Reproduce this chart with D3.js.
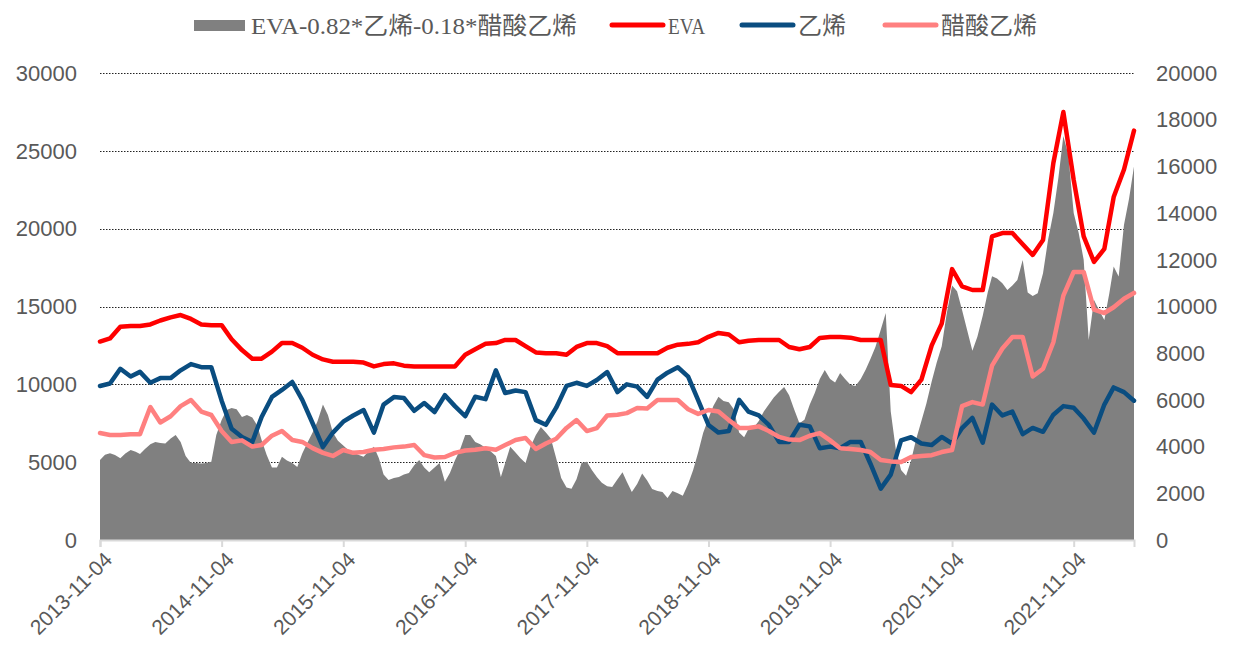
<!DOCTYPE html>
<html>
<head>
<meta charset="utf-8">
<script src="https://cdn.jsdelivr.net/npm/d3@7"></script>
<style>
  body { margin: 0; background: #fff; }
  svg { display: block; }
</style>
</head>
<body>
<div id="main"></div>
<script>
// monthly series (start 2013-11-04), left axis
const eva = [
  12750, 12950, 13700, 13750, 13750, 13850, 14100, 14300, 14450, 14200,
  13850, 13800, 13800, 12900, 12200, 11650, 11650, 12100, 12650, 12650,
  12350, 11900, 11600, 11450, 11450, 11450, 11400, 11150, 11300, 11350,
  11200, 11150, 11150, 11150, 11150, 11150, 11900, 12250, 12600, 12650,
  12850, 12850, 12450, 12050, 12000, 12000, 11900, 12400, 12650, 12650,
  12450, 12000, 12000, 12000, 12000, 12000, 12350, 12550, 12600, 12700,
  13050, 13300, 13200, 12700, 12800, 12850, 12850, 12850, 12400, 12250,
  12400, 12980, 13040, 13040, 13000, 12850, 12850, 12850, 9960, 9900,
  9500, 10300, 12500, 13900, 17400, 16300, 16060, 16060, 19500, 19720,
  19720, 19000, 18310, 19270, 24220, 27490, 23130, 19500, 17860, 18700,
  22030, 23800, 26300
];

const ethylene = [
  9890, 10050, 11000, 10500, 10800, 10100, 10400, 10400, 10900, 11300,
  11100, 11100, 8950, 7150, 6620, 6300, 7900, 9190, 9640, 10150,
  9000, 7500, 5970, 6900, 7600, 8000, 8350, 6900, 8700, 9180,
  9120, 8300, 8800, 8220, 9300, 8600, 7950, 9200, 9050, 10900,
  9440, 9600, 9500, 7700, 7400, 8500, 9900, 10100, 9900, 10280,
  10790, 9500, 10000, 9850, 9190, 10300, 10750, 11100, 10500, 8990,
  7390, 6900, 7000, 9000, 8250, 8000, 7400, 6300, 6300, 7400,
  7300, 5900, 6000, 5900, 6300, 6300, 4900, 3300, 4200, 6400,
  6600, 6200, 6100, 6620, 6200, 7190, 7840, 6250, 8700, 8000,
  8250, 6800, 7200, 6950, 8050, 8600, 8500, 7800, 6900, 8700,
  9800, 9500, 8950
];

const vinylAcetate = [
  6870, 6750, 6750, 6800, 6800, 8540, 7550, 7950, 8600, 8990,
  8250, 8030, 7000, 6300, 6400, 6000, 6100, 6700, 7000, 6420,
  6300, 5900, 5600, 5400, 5780, 5600, 5650, 5800, 5850, 5950,
  6000, 6100, 5450, 5300, 5330, 5600, 5750, 5800, 5900, 5800,
  6100, 6420, 6550, 5850, 6200, 6500, 7200, 7710, 7000, 7190,
  8000, 8050, 8150, 8480, 8450, 8990, 8990, 8990, 8400, 8100,
  8350, 8250, 7700, 7200, 7200, 7300, 7000, 6620, 6450, 6420,
  6700, 6870, 6400, 5900, 5850, 5780, 5650, 5140, 5050, 5010,
  5330, 5400, 5450, 5650, 5780, 8600, 8860, 8700, 11200, 12300,
  13040, 13040, 10500, 11000, 12700, 15700, 17220, 17220, 14800, 14580,
  14950, 15500, 15870
];

// half-monthly spread (4th and 19th of each month), right axis
const spread = [
  3430, 3650, 3720, 3640, 3500, 3700, 3850, 3780, 3680, 3900,
  4100, 4200, 4150, 4130, 4350, 4500, 4200, 3600, 3300, 3300,
  3280, 3300, 3350, 4500, 5140, 5570, 5650, 5600, 5270, 5350,
  5250, 4900, 4280, 3650, 3100, 3100, 3560, 3400, 3300, 3130,
  3700, 4150, 4600, 5100, 5800, 5350, 4600, 4250, 4050, 3850,
  3750, 3650, 3560, 3800, 3990, 3500, 2800, 2570, 2650, 2700,
  2800, 2870, 3200, 3430, 3100, 2900, 3100, 3300, 2500, 2870,
  3400, 3850, 4500, 4500, 4200, 4100, 3950, 3800, 3600, 2700,
  3300, 3990, 3750, 3500, 3300, 4000, 4500, 4840, 4600, 4350,
  3500, 2650, 2250, 2200, 2600, 3300, 3350, 3000, 2700, 2450,
  2300, 2270, 2600, 2900, 2500, 2060, 2400, 2850, 2550, 2180,
  2100, 2060, 1800, 2100, 2000, 1900, 2400, 3000, 3750, 4580,
  5200, 5750, 6130, 5950, 5900, 5600, 4600, 4400, 4750, 4800,
  5100, 5500, 5800, 6100, 6350, 6550, 6200, 5600, 5000, 5150,
  5800, 6300, 6900, 7280, 6900, 6750, 7150, 6900, 6650, 6600,
  6900, 7300, 7750, 8270, 9000, 9720, 5500, 3900, 3000, 2750,
  3400, 4300, 5100, 5850, 6800, 7600, 8300, 9700, 10900, 10650,
  9850, 9000, 8100, 8700, 9600, 10600, 11300, 11200, 11000, 10710,
  10900, 11140, 11990, 10600, 10450, 10570, 11420, 12850, 14000, 15500,
  17300, 16500, 14000, 13150, 12000, 8570, 10280, 9850, 9420, 10570,
  11710, 11290, 13500, 14600, 16000
];

const leftTicks = [0, 5000, 10000, 15000, 20000, 25000, 30000];
const rightTicks = [0, 2000, 4000, 6000, 8000, 10000, 12000, 14000, 16000, 18000, 20000];

const seriesNames = ['EVA-0.82*乙烯-0.18*醋酸乙烯', 'EVA', '乙烯', '醋酸乙烯'];
const seriesColors = ['#808080', '#ff0000', '#0a4d80', '#ff8080'];

const start = new Date(2013, 10, 4);
const monthDates = eva.map((d, i) => d3.timeMonth.offset(start, i));
const halfDates = spread.map((d, i) => {
  const m = d3.timeMonth.offset(start, Math.floor(i / 2));
  return i % 2 === 0 ? m : d3.timeDay.offset(m, 15);
});
const yearTicks = d3.range(0, 9).map(i => d3.timeYear.offset(start, i));

const width = 1233;
const height = 659;
const plot = {left: 100, right: 1134, top: 73, bottom: 540};
const textColor = '#595959';
const font = '"Liberation Sans", Arial, sans-serif';

const svg = d3.select('#main').append('svg')
    .attr('width', width)
    .attr('height', height);

const x = d3.scaleTime()
    .domain([start, monthDates[monthDates.length - 1]])
    .range([plot.left, plot.right]);

const yL = d3.scaleLinear().domain([0, 30000]).range([plot.bottom, plot.top]);
const yR = d3.scaleLinear().domain([0, 20000]).range([plot.bottom, plot.top]);

// gridlines
svg.append('g')
  .selectAll('line')
  .data(leftTicks.filter(d => d > 0))
  .join('line')
    .attr('x1', plot.left)
    .attr('x2', plot.right + 1)
    .attr('y1', d => Math.round(yL(d)) + 0.5)
    .attr('y2', d => Math.round(yL(d)) + 0.5)
    .attr('stroke', '#222')
    .attr('stroke-width', 1)
    .attr('stroke-dasharray', '1.5,1.5');

// spread area
svg.append('path')
    .datum(spread)
    .attr('fill', seriesColors[0])
    .attr('d', d3.area()
      .x((d, i) => x(halfDates[i]))
      .y0(yR(0))
      .y1(d => yR(d)));

// x axis
const xAxis = svg.append('g')
    .attr('transform', `translate(0,${plot.bottom})`)
    .call(d3.axisBottom(x)
      .tickValues(yearTicks)
      .tickSize(7)
      .tickFormat(d3.timeFormat('%Y-%m-%d')));
xAxis.select('.domain').attr('stroke', '#d9d9d9').attr('stroke-width', 2);
xAxis.selectAll('.tick line').attr('stroke', '#d9d9d9').attr('stroke-width', 2);
xAxis.selectAll('.tick text')
    .attr('fill', textColor)
    .attr('font-family', font)
    .attr('font-size', 21)
    .attr('text-anchor', 'end')
    .attr('dx', 0)
    .attr('dy', 0)
    .attr('transform', 'translate(6,14) rotate(-45)');

// left axis labels
svg.append('g')
  .selectAll('text')
  .data(leftTicks)
  .join('text')
    .attr('x', 77)
    .attr('y', d => yL(d))
    .attr('dy', '0.35em')
    .attr('text-anchor', 'end')
    .attr('fill', textColor)
    .attr('font-family', font)
    .attr('font-size', 22)
    .text(d => d);

// right axis labels
svg.append('g')
  .selectAll('text')
  .data(rightTicks)
  .join('text')
    .attr('x', 1156)
    .attr('y', d => yR(d))
    .attr('dy', '0.35em')
    .attr('text-anchor', 'start')
    .attr('fill', textColor)
    .attr('font-family', font)
    .attr('font-size', 22)
    .text(d => d);

// lines
const line = d3.line()
    .x((d, i) => x(monthDates[i]))
    .y(d => yL(d));

[eva, ethylene, vinylAcetate].forEach((s, i) => {
  svg.append('path')
      .datum(s)
      .attr('fill', 'none')
      .attr('stroke', seriesColors[i + 1])
      .attr('stroke-width', 4.5)
      .attr('stroke-linejoin', 'round')
      .attr('stroke-linecap', 'round')
      .attr('d', line);
});

// legend
const legendItems = [
  {name: seriesNames[0], color: seriesColors[0], x: 194, type: 'rect', w: 326},
  {name: seriesNames[1], color: seriesColors[1], x: 610, type: 'line', w: 37},
  {name: seriesNames[2], color: seriesColors[2], x: 740, type: 'line', w: 48},
  {name: seriesNames[3], color: seriesColors[3], x: 883, type: 'line', w: 96},
];

const legend = svg.append('g')
  .selectAll('g')
  .data(legendItems)
  .join('g')
    .attr('transform', d => `translate(${d.x},25)`);

legend.filter(d => d.type === 'rect')
  .append('rect')
    .attr('x', 0)
    .attr('y', -5)
    .attr('width', 51)
    .attr('height', 11)
    .attr('fill', d => d.color);

legend.filter(d => d.type === 'line')
  .append('line')
    .attr('x1', 2)
    .attr('x2', 53)
    .attr('stroke', d => d.color)
    .attr('stroke-width', 5)
    .attr('stroke-linecap', 'round');

legend.append('text')
    .attr('x', d => d.type === 'rect' ? 57 : 58)
    .attr('y', 0)
    .attr('dy', '0.36em')
    .attr('fill', textColor)
    .attr('font-family', '"Liberation Serif", "Noto Sans CJK SC", serif')
    .attr('font-size', 24)
    .attr('textLength', d => d.w)
    .attr('lengthAdjust', 'spacingAndGlyphs')
    .text(d => d.name);
</script>
</body>
</html>
